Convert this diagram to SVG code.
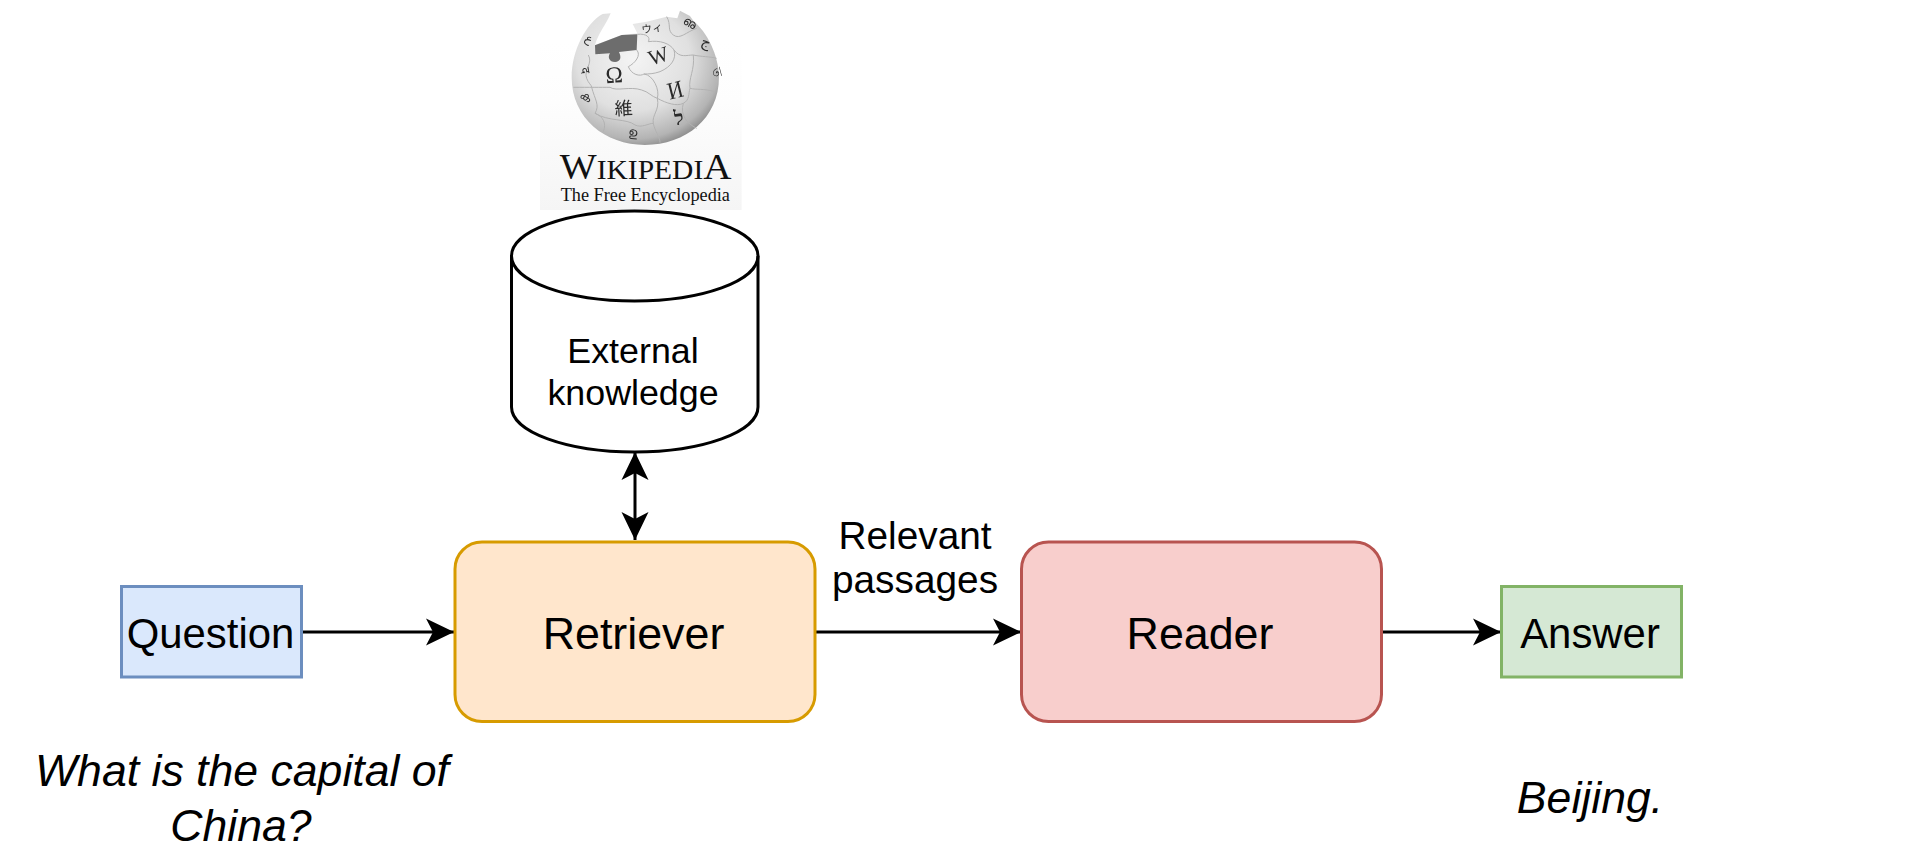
<svg xmlns="http://www.w3.org/2000/svg" width="1926" height="852" viewBox="0 0 1926 852">
<style>
text{font-family:"Liberation Sans",Arial,sans-serif;fill:#000;text-anchor:middle}
.box{stroke-width:3}
.blue{fill:#dae8fc;stroke:#6c8ebf}
.orange{fill:#ffe6cc;stroke:#d79b00}
.red{fill:#f8cecc;stroke:#b85450}
.green{fill:#d5e8d4;stroke:#82b366}
.lg{font-size:44.8px}
.md{font-size:41.9px}
.sm{font-size:35.8px}
.lb{font-size:38.8px}
.it{font-size:44.6px;font-style:italic}
.conn{fill:none;stroke:#000;stroke-width:3}
.serif{font-family:"Liberation Serif","Times New Roman",serif;fill:#111}
.gl{font-family:"Liberation Serif","Noto Sans CJK JP",serif;fill:#2a2a2a}
.seam{fill:none;stroke:#b2b2b2;stroke-width:3}
</style>
<defs>
<marker id="arrow" markerUnits="userSpaceOnUse" markerWidth="30" markerHeight="30" viewBox="0 -15 30 30" refX="28" refY="0" orient="auto-start-reverse">
<path d="M0,-13.5L28,0L0,13.5L7,0Z" fill="#000"/>
</marker>
<radialGradient id="globe" cx="0.42" cy="0.36" r="0.7">
<stop offset="0" stop-color="#f4f4f4"/><stop offset="0.55" stop-color="#e0e0e0"/><stop offset="0.85" stop-color="#b4b4b4"/><stop offset="1" stop-color="#7c7c7c"/>
</radialGradient>
<linearGradient id="bg" x1="0" y1="0" x2="0" y2="1">
<stop offset="0" stop-color="#ffffff"/><stop offset="0.35" stop-color="#fdfdfd"/><stop offset="1" stop-color="#f5f5f5"/>
</linearGradient>
<filter id="soft" filterUnits="userSpaceOnUse" x="100" y="0" width="540" height="470"><feGaussianBlur stdDeviation="0.9"/></filter>
</defs>

<g id="wikipedia-logo" transform="translate(520 0) scale(0.3333)">
<rect x="60" y="130" width="605" height="500" fill="url(#bg)"/>
<g filter="url(#soft)">
<path d="M248,42C200,68 155,150 155,232C155,355 255,435 375,435C497,435 597,355 597,232C597,165 560,95 520,62L510,48L480,32L472,55L440,50L410,58L380,65L338,72L352,100L305,105L225,135C235,100 258,75 272,40Z" fill="url(#globe)"/>
<path d="M225,136L305,105L352,103L350,150L297,156C305,172 302,185 285,186C268,186 262,172 270,160L226,163Z" fill="#6d6d6d"/>
<path class="seam" d="M352,103C380,100 392,112 385,125C420,120 450,130 462,150C480,175 500,165 520,165C540,170 575,170 590,175"/>
<path class="seam" d="M350,150C365,165 345,190 325,200C335,225 360,230 372,222C400,225 420,270 412,295C395,290 385,275 365,270C330,258 290,275 270,262C240,262 210,262 160,262"/>
<path class="seam" d="M462,150C470,175 455,200 420,215C400,222 385,222 372,222"/>
<path class="seam" d="M520,165C525,210 505,235 510,265C530,270 550,265 585,275"/>
<path class="seam" d="M412,295C440,310 470,320 490,310C510,300 505,280 510,265"/>
<path class="seam" d="M215,262C225,300 240,315 225,340C250,350 260,370 250,395"/>
<path class="seam" d="M412,295C420,330 395,345 400,370C405,395 420,410 420,428"/>
<path class="seam" d="M490,310C480,345 500,370 530,385"/>
<path class="seam" d="M225,340C265,365 320,355 345,375C365,385 385,370 400,370"/>
<path class="seam" d="M440,50C455,75 440,90 460,105C480,120 500,95 530,85"/>
<path class="seam" d="M205,165C220,190 190,210 200,235C205,250 215,255 215,262"/>
<text class="gl" transform="translate(284 248) rotate(-4)" font-size="70">Ω</text>
<text class="gl" transform="translate(422 188) rotate(-18)" font-size="64">W</text>
<text class="gl" transform="translate(472 294) rotate(-14) scale(1 1.15)" font-size="64">И</text>
<text class="gl" transform="translate(312 344) rotate(-3)" font-size="54">維</text>
<text class="gl" transform="translate(398 96) rotate(-8)" font-size="32">ウィ</text>
<text class="gl" transform="translate(480 374) rotate(-8)" font-size="60" font-weight="bold">ל</text>
<text class="gl" transform="translate(553 140) rotate(22)" font-size="44">ج</text>
<text class="gl" transform="translate(505 80) rotate(30)" font-size="38">ഌ</text>
<text class="gl" transform="translate(200 125) rotate(35)" font-size="36">ع</text>
<text class="gl" transform="translate(186 212) rotate(80)" font-size="36">द</text>
<text class="gl" transform="translate(190 300) rotate(30)" font-size="36">ക</text>
<text class="gl" transform="translate(580 220) rotate(75)" font-size="36">ত</text>
<text class="gl" transform="translate(338 410) rotate(5)" font-size="38">ഉ</text>
</g>
<text class="serif" x="377" y="538" textLength="515" lengthAdjust="spacingAndGlyphs"><tspan font-size="106">W</tspan><tspan font-size="80">IKIPEDI</tspan><tspan font-size="106">A</tspan></text>
<text class="serif" x="376" y="603" font-size="58" textLength="508" lengthAdjust="spacingAndGlyphs">The Free Encyclopedia</text>
</g>

<g id="connectors">
<path class="conn" d="M302,632H454" marker-end="url(#arrow)"/>
<path class="conn" d="M814,632H1021" marker-end="url(#arrow)"/>
<path class="conn" d="M1382,632H1501" marker-end="url(#arrow)"/>
<path class="conn" d="M635,452V540" marker-start="url(#arrow)" marker-end="url(#arrow)"/>
</g>

<g id="question">
<rect class="box blue" x="121.5" y="586.5" width="180" height="90.5"/>
<text class="md" x="210.500" y="648">Question</text>
</g>
<g id="retriever">
<rect class="box orange" x="455" y="542" width="360" height="179.5" rx="27"/>
<text class="lg" x="633.500" y="648.500">Retriever</text>
</g>
<g id="reader">
<rect class="box red" x="1021.500" y="542" width="360" height="179.5" rx="27"/>
<text class="lg" x="1200" y="648.500">Reader</text>
</g>
<g id="answer">
<rect class="box green" x="1501.5" y="586.5" width="180" height="90.5"/>
<text class="md" x="1590" y="648">Answer</text>
</g>
<g id="external-knowledge">
<path d="M511.5,256C511.5,231 567,211 634.5,211C702,211 758,231 758,256V407C758,432 702,452 634.5,452C567,452 511.5,432 511.5,407Z" fill="#fff" stroke="#000" stroke-width="3"/>
<path d="M511.5,256C511.5,281 567,301 634.5,301C702,301 758,281 758,256" fill="none" stroke="#000" stroke-width="3"/>
<text class="sm" x="633" y="363">External</text>
<text class="sm" x="633" y="405">knowledge</text>
</g>
<g id="labels">
<text class="lb" x="915" y="549">Relevant</text>
<text class="lb" x="915" y="593">passages</text>
<text class="it" x="242" y="786">What is the capital of</text>
<text class="it" x="241" y="841">China?</text>
<text class="it" x="1590" y="813">Beijing.</text>
</g>
</svg>
